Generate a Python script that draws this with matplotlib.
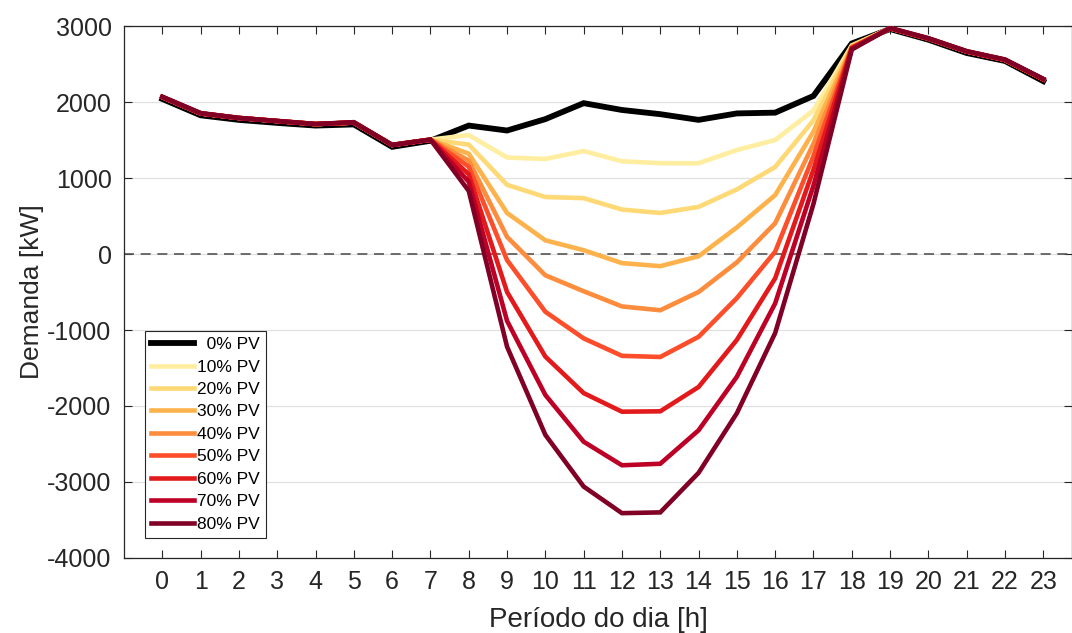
import matplotlib
matplotlib.use("Agg")
import matplotlib.pyplot as plt
import numpy as np

plt.rcParams['font.family'] = ['Liberation Sans', 'DejaVu Sans']
plt.rcParams['axes.unicode_minus'] = False

hours = list(range(24))

# demanda [kW] por hora, para cada nivel de penetracao PV
pv0 = [2040, 1825, 1765, 1725, 1690, 1705, 1410, 1490, 1690, 1625, 1775, 1985,
       1895, 1840, 1765, 1850, 1860, 2080, 2770, 2960, 2820, 2645, 2540, 2275]
pv10 = [2065, 1850, 1790, 1750, 1710, 1730, 1435, 1505, 1565, 1270, 1250, 1355,
        1220, 1195, 1195, 1368, 1500, 1890, 2745, 2970, 2835, 2665, 2555, 2300]
pv20 = [2065, 1850, 1790, 1750, 1710, 1730, 1435, 1505, 1440, 910, 750, 735,
        585, 540, 620, 850, 1145, 1760, 2735, 2970, 2835, 2665, 2555, 2300]
pv30 = [2065, 1850, 1790, 1750, 1710, 1730, 1435, 1505, 1320, 540, 180, 50,
        -120, -160, -30, 350, 775, 1610, 2725, 2970, 2835, 2665, 2555, 2300]
pv40 = [2065, 1850, 1790, 1750, 1710, 1730, 1435, 1505, 1230, 225, -280, -490,
        -690, -740, -500, -110, 405, 1450, 2720, 2970, 2835, 2665, 2555, 2300]
pv50 = [2065, 1850, 1790, 1750, 1710, 1730, 1435, 1505, 1150, -80, -760, -1110,
        -1340, -1355, -1090, -580, 30, 1290, 2715, 2970, 2835, 2665, 2555, 2300]
pv60 = [2065, 1850, 1790, 1750, 1710, 1730, 1435, 1505, 1050, -500, -1350, -1830,
        -2075, -2070, -1750, -1130, -320, 1110, 2710, 2970, 2835, 2665, 2555, 2300]
pv70 = [2065, 1850, 1790, 1750, 1710, 1730, 1435, 1505, 950, -880, -1855, -2470,
        -2780, -2760, -2320, -1615, -650, 900, 2700, 2970, 2835, 2665, 2555, 2300]
pv80 = [2070, 1855, 1790, 1750, 1710, 1735, 1435, 1505, 830, -1220, -2380, -3060,
        -3410, -3400, -2880, -2095, -1040, 660, 2690, 2975, 2840, 2670, 2560, 2305]

series = [pv0, pv10, pv20, pv30, pv40, pv50, pv60, pv70, pv80]
labels = ['\u20070% PV', '10% PV', '20% PV', '30% PV', '40% PV',
          '50% PV', '60% PV', '70% PV', '80% PV']
colors = ['#000000', '#ffeda0', '#fed976', '#feb24c', '#fd8d3c',
          '#fc4e2a', '#e31a1c', '#bd0026', '#800026']

fig = plt.figure(figsize=(10.72, 6.33), dpi=100)
ax = fig.add_axes([0.1157, 0.1185, 0.8843, 0.8404])

ax.axhline(0, color='#555555', lw=1.2, ls=(0, (6, 4)), zorder=1)

for i, (y, lab, c) in enumerate(zip(series, labels, colors)):
    lw = 4.2 if i == 0 else 3.3
    ax.plot(hours, y, color=c, lw=lw, label=lab, zorder=2 + i,
            solid_joinstyle='miter')

ax.set_xlim(-1, 23.75)
ax.set_ylim(-4000, 3000)
ax.set_xticks(hours)
ax.set_yticks(np.arange(-4000, 3001, 1000))
ax.yaxis.grid(True, color='#e0e0e0', lw=0.9)
ax.set_axisbelow(True)

ax.tick_params(direction='in', top=True, right=True, length=6,
               labelsize=18, colors='#262626', width=0.8)
ax.tick_params(axis='x', pad=9)
ax.tick_params(axis='y', pad=9)
for s in ax.spines.values():
    s.set_color('#262626')
    s.set_linewidth(0.9)

ax.set_xlabel('Período do dia [h]', fontsize=20, color='#262626', labelpad=9)
ax.set_ylabel('Demanda [kW]', fontsize=19, color='#262626', labelpad=2)

leg = ax.legend(loc='lower left', bbox_to_anchor=(0.022, 0.038),
                borderaxespad=0, fontsize=12.5, handlelength=2.5,
                handletextpad=0.15, labelspacing=0.42, borderpad=0.35,
                fancybox=False, framealpha=1, edgecolor='#262626')
leg.get_frame().set_linewidth(0.8)

fig.savefig('out.png', dpi=100)
